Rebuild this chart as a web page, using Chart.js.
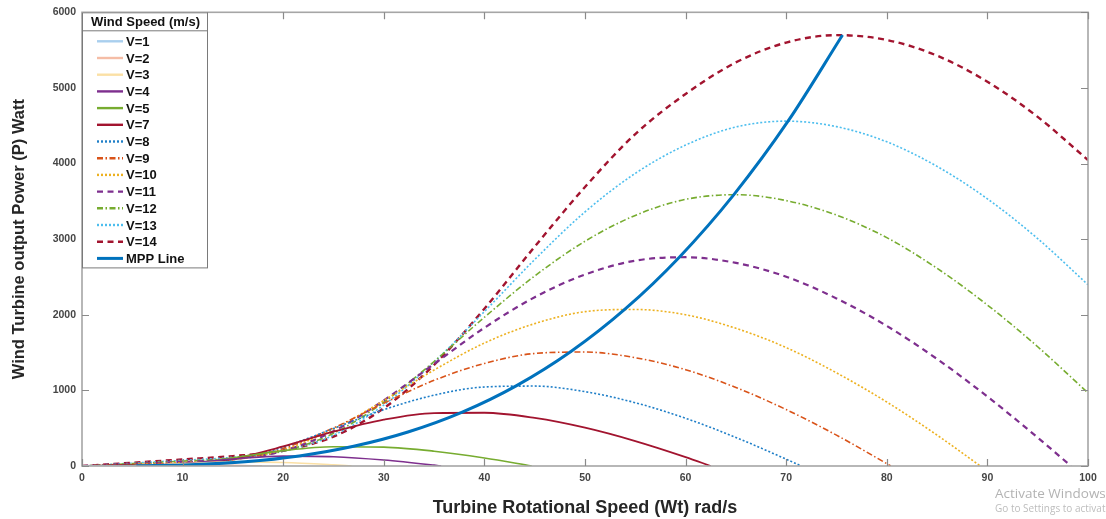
<!DOCTYPE html>
<html>
<head>
<meta charset="utf-8">
<title>Wind turbine power curves</title>
<script src="https://cdn.jsdelivr.net/npm/chart.js@4.4.0/dist/chart.umd.min.js"></script>
<style>
  html, body { margin: 0; padding: 0; background: #fff; }
  #wrap { position: relative; width: 1106px; height: 519px; }
  .wm1 { position: absolute; left: 995px; top: 484px; font: 13.5px "Open Sans", sans-serif; color: #b3b3b3; white-space: nowrap; }
  .wm2 { position: absolute; left: 995px; top: 501px; font: 10px "Open Sans", sans-serif; color: #bdbdbd; white-space: nowrap; }
</style>
</head>
<body>
<div id="wrap">
  <canvas id="powerChart" width="1106" height="519"></canvas>
  <div class="wm1">Activate Windows</div>
  <div class="wm2">Go to Settings to activate Windows.</div>
</div>
<script>
// rotor speed grid (rad/s) shared by all wind speed curves
const omega = [0, 5, 10, 15, 20, 25, 30, 35, 40, 45, 50, 55, 60, 65, 70, 75, 80, 85, 90, 95, 100];

// output power (W) at each omega, per wind speed
const powerV1  = [0, 2];
const powerV2  = [0, 4, 16, 10];
const powerV3  = [0, 3, 31, 55, 47, 15];
const powerV4  = [0, 4, 31, 93, 131, 123, 79, 11];
const powerV5  = [0, 6, 27, 108, 203, 255, 250, 196, 106];
const powerV7  = [0, 11, 26, 95, 258, 454, 613, 700, 704, 635, 506, 329, 117];
const powerV8  = [0, 14, 30, 86, 250, 496, 745, 937, 1045, 1057, 983, 837, 631, 378, 90];
const powerV9  = [0, 18, 36, 82, 233, 503, 830, 1133, 1356, 1488, 1507, 1432, 1274, 1038, 746, 408, 31];
const powerV10 = [0, 22, 45, 84, 214, 488, 867, 1269, 1626, 1883, 2041, 2070, 2000, 1821, 1566, 1232, 846, 408];
const powerV11 = [0, 27, 54, 90, 201, 461, 868, 1350, 1828, 2232, 2532, 2716, 2761, 2686, 2503, 2216, 1852, 1415, 918, 376];
const powerV12 = [0, 32, 64, 101, 195, 432, 843, 1382, 1967, 2513, 2972, 3314, 3526, 3588, 3510, 3318, 3020, 2614, 2129, 1577, 967];
const powerV13 = [0, 37, 75, 115, 197, 407, 806, 1376, 2042, 2730, 3360, 3870, 4244, 4483, 4561, 4488, 4287, 3962, 3533, 3007, 2397];
const powerV14 = [0, 43, 87, 131, 205, 389, 764, 1338, 2080, 2900, 3690, 4390, 4920, 5337, 5600, 5698, 5634, 5426, 5082, 4617, 4046];

// speed where each curve falls back to zero power (null = still positive at 100)
const zeroSpeed = [8.9, 17.9, 26.8, 35.7, 44.7, 62.5, 71.5, 80.4, 89.3, 98.3, null, null, null];
const windLabels = ['V=1', 'V=2', 'V=3', 'V=4', 'V=5', 'V=7', 'V=8', 'V=9', 'V=10', 'V=11', 'V=12', 'V=13', 'V=14'];

// maximum power point track
const mppSpeed = [5.4, 10.8, 16.2, 21.6, 27.0, 32.4, 37.8, 43.2, 48.6, 54.0, 59.4, 64.8, 70.2, 75.6];
const mppPower = [2, 17, 56, 133, 260, 449, 712, 1063, 1514, 2077, 2765, 3589, 4563, 5700];

const xTicks = [0, 10, 20, 30, 40, 50, 60, 70, 80, 90, 100];
const yTicks = [0, 1000, 2000, 3000, 4000, 5000, 6000];

const curves = [powerV1, powerV2, powerV3, powerV4, powerV5, powerV7, powerV8,
                powerV9, powerV10, powerV11, powerV12, powerV13, powerV14];

const DOT = [2, 2], DASH = [6, 4.5], DASHDOT = [6, 2.5, 1.5, 2.5];
const lineStyles = [
  { color: '#a9cfee', width: 1.6, dash: [] },
  { color: '#f5bda6', width: 1.6, dash: [] },
  { color: '#fbe0a5', width: 1.6, dash: [] },
  { color: '#7E2F8E', width: 1.6, dash: [] },
  { color: '#77AC30', width: 1.6, dash: [] },
  { color: '#A2142F', width: 1.8, dash: [] },
  { color: '#1f7fc8', width: 1.6, dash: DOT },
  { color: '#D95319', width: 1.6, dash: DASHDOT },
  { color: '#EDB120', width: 1.6, dash: DOT },
  { color: '#7E2F8E', width: 2.2, dash: DASH },
  { color: '#77AC30', width: 1.6, dash: DASHDOT },
  { color: '#4DBEEE', width: 1.6, dash: DOT },
  { color: '#A2142F', width: 2.4, dash: DASH }
];

function toPoints(values, end) {
  const pts = values.map((p, i) => ({ x: omega[i], y: p }));
  if (end !== null) pts.push({ x: end, y: 0 });
  return pts;
}

const datasets = curves.map((values, i) => ({
  label: windLabels[i],
  data: toPoints(values, zeroSpeed[i]),
  borderColor: lineStyles[i].color,
  borderWidth: lineStyles[i].width,
  borderDash: lineStyles[i].dash,
  borderCapStyle: 'butt',
  pointRadius: 0,
  fill: false,
  cubicInterpolationMode: 'monotone'
}));

datasets.push({
  label: 'MPP Line',
  data: mppSpeed.map((w, i) => ({ x: w, y: mppPower[i] })),
  borderColor: '#0072BD',
  borderWidth: 3,
  borderDash: [],
  pointRadius: 0,
  fill: false,
  cubicInterpolationMode: 'monotone',
  order: -1
});

// axes box with inward tick marks on all four sides
const frame = {
  id: 'frame',
  afterDatasetsDraw(chart) {
    const { ctx, chartArea: a, scales: { x, y } } = chart;
    const len = 7;
    ctx.save();
    ctx.strokeStyle = '#a6a6a6';
    ctx.lineWidth = 1.6;
    ctx.strokeRect(a.left, a.top, a.right - a.left, a.bottom - a.top);
    ctx.strokeStyle = '#8a8a8a';
    ctx.lineWidth = 1.2;
    ctx.beginPath();
    x.ticks.forEach(t => {
      const px = Math.round(x.getPixelForValue(t.value)) + 0.5;
      ctx.moveTo(px, a.bottom); ctx.lineTo(px, a.bottom - len);
      ctx.moveTo(px, a.top); ctx.lineTo(px, a.top + len);
    });
    y.ticks.forEach(t => {
      const py = Math.round(y.getPixelForValue(t.value)) + 0.5;
      ctx.moveTo(a.left, py); ctx.lineTo(a.left + len, py);
      ctx.moveTo(a.right, py); ctx.lineTo(a.right - len, py);
    });
    ctx.stroke();
    ctx.restore();
  }
};

// boxed legend in the upper left corner of the plot
const keyBox = {
  id: 'keyBox',
  afterDraw(chart) {
    const { ctx, chartArea: a } = chart;
    const sets = chart.data.datasets;
    const left = a.left, top = a.top, w = 125, headH = 18, rowH = 16.7;
    const h = headH + 11 + (sets.length - 1) * rowH + 9;
    ctx.save();
    ctx.fillStyle = '#fff';
    ctx.fillRect(left, top, w, h);
    ctx.strokeStyle = '#7a7a7a';
    ctx.lineWidth = 1;
    ctx.strokeRect(left + 0.5, top + 0.5, w, h);
    ctx.beginPath();
    ctx.moveTo(left, top + headH + 0.5);
    ctx.lineTo(left + w, top + headH + 0.5);
    ctx.stroke();

    ctx.fillStyle = '#111';
    ctx.font = 'bold 13px "Liberation Sans"';
    ctx.textAlign = 'center';
    ctx.textBaseline = 'middle';
    ctx.fillText('Wind Speed (m/s)', left + w / 2 + 1, top + headH / 2 + 1);

    ctx.textAlign = 'left';
    sets.forEach((ds, i) => {
      const yy = top + headH + 11 + i * rowH;
      ctx.save();
      ctx.strokeStyle = ds.borderColor;
      ctx.lineWidth = Math.max(ds.borderWidth, 2.4);
      ctx.setLineDash(ds.borderDash || []);
      ctx.beginPath();
      ctx.moveTo(left + 15, yy);
      ctx.lineTo(left + 41, yy);
      ctx.stroke();
      ctx.restore();
      ctx.fillText(ds.label, left + 44, yy + 1);
    });
    ctx.restore();
  }
};

Chart.defaults.font.family = '"Liberation Sans", Arial, sans-serif';

new Chart(document.getElementById('powerChart'), {
  type: 'line',
  data: { datasets },
  options: {
    responsive: false,
    animation: false,
    layout: { padding: { left: 0, right: 18, top: 11, bottom: 0 }, autoPadding: false },
    plugins: { legend: { display: false }, tooltip: { enabled: false } },
    scales: {
      x: {
        type: 'linear',
        min: 0, max: 100,
        afterBuildTicks: s => { s.ticks = xTicks.map(v => ({ value: v })); },
        afterFit: s => { s.height = 53; },
        grid: { display: false, drawTicks: false },
        border: { display: false },
        ticks: { padding: 6, color: '#454545', font: { size: 10.5, weight: 'bold' }, maxRotation: 0,
                 callback: v => String(v) },
        title: {
          display: true,
          text: 'Turbine Rotational Speed (Wt) rad/s',
          color: '#262626',
          font: { size: 18, weight: 'bold' },
          padding: { top: 0, bottom: 0 }
        }
      },
      y: {
        min: 0, max: 6000,
        afterBuildTicks: s => { s.ticks = yTicks.map(v => ({ value: v })); },
        afterFit: s => { s.width = 82; },
        grid: { display: false, drawTicks: false },
        border: { display: false },
        ticks: { padding: 6, color: '#454545', font: { size: 10.5, weight: 'bold' },
                 callback: v => String(v) },
        title: {
          display: true,
          text: 'Wind Turbine output Power (P) Watt',
          color: '#262626',
          font: { size: 16.5, weight: 'bold' },
          padding: { top: 10, bottom: 10 }
        }
      }
    }
  },
  plugins: [frame, keyBox]
});
</script>
</body>
</html>
